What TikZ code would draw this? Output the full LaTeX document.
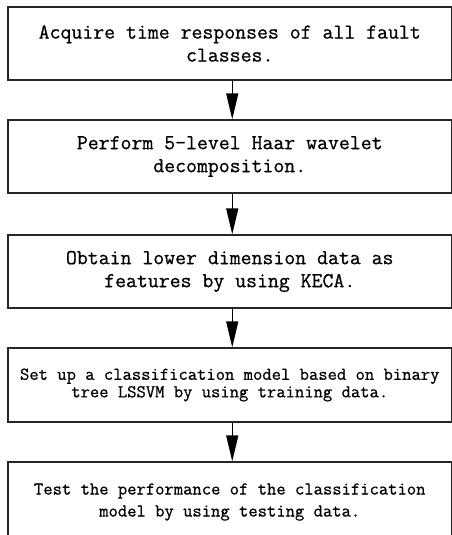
\documentclass[tikz,border=0pt]{standalone}
\usepackage{fontspec}
\newfontfamily\boxfont{Latin Modern Mono}[FakeBold=0.7]
\usetikzlibrary{arrows.meta}
\tikzset{
  stepbox/.style={draw=black!85, line width=1.3pt, rectangle, minimum width=443.5pt, minimum height=73pt, inner sep=0pt, align=center, font=\boxfont\fontsize{21.2}{23}\selectfont},
  smallbox/.style={stepbox, font=\boxfont\fontsize{18.1}{17.5}\selectfont},
  smallbox2/.style={stepbox, font=\boxfont\fontsize{18.1}{22}\selectfont},
  flow/.style={draw=black, line width=1.3pt, -{Triangle[length=26pt,width=12pt]}}
}
\begin{document}
\begin{tikzpicture}[x=1pt,y=1pt]
\useasboundingbox (0,0) rectangle (452,-535);
\clip (0,0) rectangle (452,-535);
\node[stepbox] (b1) at (229.75,-43.5) {Acquire time responses of all fault\\classes.};
\node[stepbox] (b2) at (229.75,-156.5) {Perform 5-level Haar wavelet\\decomposition.};
\node[stepbox] (b3) at (229.75,-271.5) {Obtain lower dimension data as\\features by using KECA.};
\node[smallbox, minimum height=74pt] (b4) at (229.75,-385) {Set up a classification model based on binary\\tree LSSVM by using training data.};
\node[smallbox2, minimum height=80pt] (b5) at (229.75,-502) {Test the performance of the classification\\model by using testing data.};
\draw[flow] ([xshift=2.5pt]b1.south) -- ([xshift=2.5pt]b2.north);
\draw[flow] ([xshift=2.5pt]b2.south) -- ([xshift=2.5pt]b3.north);
\draw[flow] ([xshift=2.5pt]b3.south) -- ([xshift=2.5pt]b4.north);
\draw[flow] ([xshift=2.5pt]b4.south) -- ([xshift=2.5pt]b5.north);
\end{tikzpicture}
\end{document}
